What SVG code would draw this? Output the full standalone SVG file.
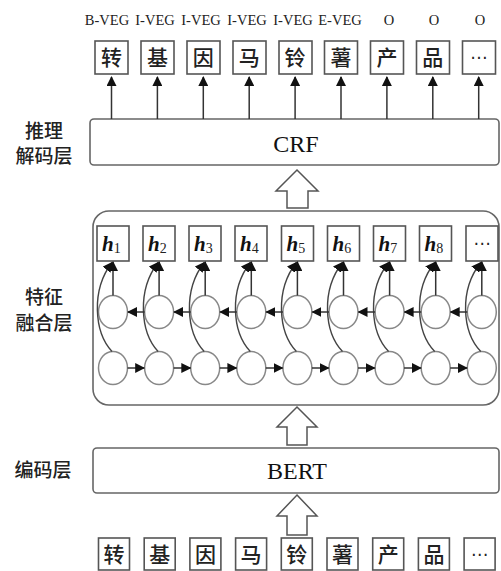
<svg xmlns="http://www.w3.org/2000/svg" width="501" height="571" viewBox="0 0 501 571">
<defs>
<marker id="ah" viewBox="0 0 10 10" refX="9" refY="5" markerWidth="10" markerHeight="10" markerUnits="userSpaceOnUse" orient="auto">
<path d="M0,0 L10,5 L0,10 Z" fill="#111"/>
</marker>
</defs>
<style>
.tag{font-family:"Liberation Serif",serif;font-size:14.5px;fill:#222;text-anchor:middle}
.ch{font-family:"Noto Sans CJK SC",sans-serif;font-size:21px;fill:#222;text-anchor:middle;font-weight:500}
.dots{font-family:"DejaVu Sans",sans-serif;font-size:17px;fill:#222;text-anchor:middle}
.box{fill:#fff;stroke:#555;stroke-width:1.6}
.lay{fill:#fff;stroke:#666;stroke-width:1.6}
.lbl{font-family:"Noto Sans CJK SC",sans-serif;font-size:19px;fill:#222;text-anchor:middle;font-weight:500}
.big{font-family:"Liberation Serif",serif;font-size:24px;fill:#111;text-anchor:middle}
.hh{font-family:"Liberation Serif",serif;font-size:21px;fill:#111;font-weight:bold;font-style:italic}
.sub{font-family:"Liberation Serif",serif;font-size:14px;fill:#222;font-weight:normal;font-style:normal}
.cir{fill:#fff;stroke:#888;stroke-width:1.5}
.ln{fill:none;stroke:#333;stroke-width:1.5}
.cv{fill:none;stroke:#444;stroke-width:1.4}
.hol{fill:#fff;stroke:#555;stroke-width:1.5}
</style>

<g id="tags">
<text class="tag" x="107" y="25">B-VEG</text>
<text class="tag" x="155" y="25">I-VEG</text>
<text class="tag" x="201" y="25">I-VEG</text>
<text class="tag" x="247" y="25">I-VEG</text>
<text class="tag" x="293" y="25">I-VEG</text>
<text class="tag" x="340" y="25">E-VEG</text>
<text class="tag" x="389" y="25">O</text>
<text class="tag" x="434" y="25">O</text>
<text class="tag" x="480" y="25">O</text>
</g>

<g id="top-chars">
<rect class="box" x="95" y="41" width="33" height="33"/><text class="ch" x="111.5" y="65">转</text>
<rect class="box" x="141" y="41" width="33" height="33"/><text class="ch" x="157.4" y="65">基</text>
<rect class="box" x="187" y="41" width="33" height="33"/><text class="ch" x="203.3" y="65">因</text>
<rect class="box" x="233" y="41" width="33" height="33"/><text class="ch" x="249.2" y="65">马</text>
<rect class="box" x="279" y="41" width="33" height="33"/><text class="ch" x="295.1" y="65">铃</text>
<rect class="box" x="324.5" y="41" width="33" height="33"/><text class="ch" x="341" y="65">薯</text>
<rect class="box" x="370.5" y="41" width="33" height="33"/><text class="ch" x="386.9" y="65">产</text>
<rect class="box" x="416.5" y="41" width="33" height="33"/><text class="ch" x="432.8" y="65">品</text>
<rect class="box" x="462.5" y="41" width="33" height="33"/><text class="dots" x="478.7" y="63">⋯</text>
</g>

<g id="crf-layer">
<rect class="lay" x="90" y="119" width="409" height="46" rx="4"/>
<text class="big" x="296" y="152">CRF</text>
<text class="lbl" x="44" y="138">推理</text>
<text class="lbl" x="44" y="163">解码层</text>
</g>

<g id="feature-layer">
<rect class="lay" x="93" y="211" width="406" height="194" rx="16"/>
<text class="lbl" x="44" y="304">特征</text>
<text class="lbl" x="44" y="330">融合层</text>
<g id="h-boxes">
<rect class="box" x="97" y="226" width="32" height="35"/><text class="hh" x="102" y="251">h<tspan class="sub" dy="2">1</tspan></text>
<rect class="box" x="143" y="226" width="32" height="35"/><text class="hh" x="148" y="251">h<tspan class="sub" dy="2">2</tspan></text>
<rect class="box" x="189" y="226" width="32" height="35"/><text class="hh" x="194" y="251">h<tspan class="sub" dy="2">3</tspan></text>
<rect class="box" x="235" y="226" width="32" height="35"/><text class="hh" x="240" y="251">h<tspan class="sub" dy="2">4</tspan></text>
<rect class="box" x="281.5" y="226" width="32" height="35"/><text class="hh" x="286.5" y="251">h<tspan class="sub" dy="2">5</tspan></text>
<rect class="box" x="327.5" y="226" width="32" height="35"/><text class="hh" x="332.5" y="251">h<tspan class="sub" dy="2">6</tspan></text>
<rect class="box" x="373.5" y="226" width="32" height="35"/><text class="hh" x="378.5" y="251">h<tspan class="sub" dy="2">7</tspan></text>
<rect class="box" x="419.5" y="226" width="32" height="35"/><text class="hh" x="424.5" y="251">h<tspan class="sub" dy="2">8</tspan></text>
<rect class="box" x="466" y="226" width="32" height="35"/><text class="dots" x="482" y="249">⋯</text>
</g>
<g id="lstm-cells">
<ellipse class="cir" cx="113" cy="312" rx="14.5" ry="16.5"/><ellipse class="cir" cx="113" cy="368" rx="14.5" ry="16.5"/>
<ellipse class="cir" cx="159.1" cy="312" rx="14.5" ry="16.5"/><ellipse class="cir" cx="159.1" cy="368" rx="14.5" ry="16.5"/>
<ellipse class="cir" cx="205.2" cy="312" rx="14.5" ry="16.5"/><ellipse class="cir" cx="205.2" cy="368" rx="14.5" ry="16.5"/>
<ellipse class="cir" cx="251.3" cy="312" rx="14.5" ry="16.5"/><ellipse class="cir" cx="251.3" cy="368" rx="14.5" ry="16.5"/>
<ellipse class="cir" cx="297.4" cy="312" rx="14.5" ry="16.5"/><ellipse class="cir" cx="297.4" cy="368" rx="14.5" ry="16.5"/>
<ellipse class="cir" cx="343.5" cy="312" rx="14.5" ry="16.5"/><ellipse class="cir" cx="343.5" cy="368" rx="14.5" ry="16.5"/>
<ellipse class="cir" cx="389.6" cy="312" rx="14.5" ry="16.5"/><ellipse class="cir" cx="389.6" cy="368" rx="14.5" ry="16.5"/>
<ellipse class="cir" cx="435.7" cy="312" rx="14.5" ry="16.5"/><ellipse class="cir" cx="435.7" cy="368" rx="14.5" ry="16.5"/>
<ellipse class="cir" cx="481.8" cy="312" rx="14.5" ry="16.5"/><ellipse class="cir" cx="481.8" cy="368" rx="14.5" ry="16.5"/>
</g>
</g>

<g id="bert-layer">
<rect class="lay" x="93" y="448" width="406" height="45" rx="4"/>
<text class="big" x="297" y="479">BERT</text>
<text class="lbl" x="43" y="477">编码层</text>
</g>

<g id="bottom-chars">
<rect class="box" x="98.5" y="538" width="31" height="32"/><text class="ch" x="114" y="562">转</text>
<rect class="box" x="144.2" y="538" width="31" height="32"/><text class="ch" x="159.7" y="562">基</text>
<rect class="box" x="189.9" y="538" width="31" height="32"/><text class="ch" x="205.4" y="562">因</text>
<rect class="box" x="235.6" y="538" width="31" height="32"/><text class="ch" x="251.1" y="562">马</text>
<rect class="box" x="281.3" y="538" width="31" height="32"/><text class="ch" x="296.8" y="562">铃</text>
<rect class="box" x="327" y="538" width="31" height="32"/><text class="ch" x="342.5" y="562">薯</text>
<rect class="box" x="372.7" y="538" width="31" height="32"/><text class="ch" x="388.2" y="562">产</text>
<rect class="box" x="418.4" y="538" width="31" height="32"/><text class="ch" x="433.9" y="562">品</text>
<rect class="box" x="464.1" y="538" width="31" height="32"/><text class="dots" x="479.6" y="560">⋯</text>
</g>

<g id="connectors">
<line class="ln" x1="111.5" y1="119" x2="111.5" y2="77" marker-end="url(#ah)"/>
<line class="ln" x1="157.4" y1="119" x2="157.4" y2="77" marker-end="url(#ah)"/>
<line class="ln" x1="203.3" y1="119" x2="203.3" y2="77" marker-end="url(#ah)"/>
<line class="ln" x1="249.2" y1="119" x2="249.2" y2="77" marker-end="url(#ah)"/>
<line class="ln" x1="295.1" y1="119" x2="295.1" y2="77" marker-end="url(#ah)"/>
<line class="ln" x1="341" y1="119" x2="341" y2="77" marker-end="url(#ah)"/>
<line class="ln" x1="386.9" y1="119" x2="386.9" y2="77" marker-end="url(#ah)"/>
<line class="ln" x1="432.8" y1="119" x2="432.8" y2="77" marker-end="url(#ah)"/>
<line class="ln" x1="478.7" y1="119" x2="478.7" y2="77" marker-end="url(#ah)"/>
<path class="hol" d="M297,170 L318,191 L308,191 L308,208 L287,208 L287,191 L276,191 Z"/>
<path class="hol" d="M297,407 L317,427 L307,427 L307,445 L287,445 L287,427 L277,427 Z"/>
<path class="hol" d="M297,495 L317,516 L307,516 L307,535 L287,535 L287,516 L277,516 Z"/>
<line class="ln" x1="113" y1="295.5" x2="113" y2="262" marker-end="url(#ah)"/>
<line class="ln" x1="159.1" y1="295.5" x2="159.1" y2="262" marker-end="url(#ah)"/>
<line class="ln" x1="205.2" y1="295.5" x2="205.2" y2="262" marker-end="url(#ah)"/>
<line class="ln" x1="251.3" y1="295.5" x2="251.3" y2="262" marker-end="url(#ah)"/>
<line class="ln" x1="297.4" y1="295.5" x2="297.4" y2="262" marker-end="url(#ah)"/>
<line class="ln" x1="343.5" y1="295.5" x2="343.5" y2="262" marker-end="url(#ah)"/>
<line class="ln" x1="389.6" y1="295.5" x2="389.6" y2="262" marker-end="url(#ah)"/>
<line class="ln" x1="435.7" y1="295.5" x2="435.7" y2="262" marker-end="url(#ah)"/>
<line class="ln" x1="481.8" y1="295.5" x2="481.8" y2="262" marker-end="url(#ah)"/>
<path class="cv" d="M112,351.5 C94,332 91,290 112,262.5" marker-end="url(#ah)"/>
<path class="cv" d="M158.1,351.5 C140,332 137,290 158.1,262.5" marker-end="url(#ah)"/>
<path class="cv" d="M204.2,351.5 C186,332 183,290 204.2,262.5" marker-end="url(#ah)"/>
<path class="cv" d="M250.3,351.5 C232,332 229,290 250.3,262.5" marker-end="url(#ah)"/>
<path class="cv" d="M296.4,351.5 C278,332 275,290 296.4,262.5" marker-end="url(#ah)"/>
<path class="cv" d="M342.5,351.5 C324,332 321,290 342.5,262.5" marker-end="url(#ah)"/>
<path class="cv" d="M388.6,351.5 C370,332 367,290 388.6,262.5" marker-end="url(#ah)"/>
<path class="cv" d="M434.7,351.5 C416,332 413,290 434.7,262.5" marker-end="url(#ah)"/>
<path class="cv" d="M480.8,351.5 C462,332 459,290 480.8,262.5" marker-end="url(#ah)"/>
<line class="ln" x1="144.6" y1="312" x2="128" y2="312" marker-end="url(#ah)"/>
<line class="ln" x1="190.7" y1="312" x2="174.1" y2="312" marker-end="url(#ah)"/>
<line class="ln" x1="236.8" y1="312" x2="220.2" y2="312" marker-end="url(#ah)"/>
<line class="ln" x1="282.9" y1="312" x2="266.3" y2="312" marker-end="url(#ah)"/>
<line class="ln" x1="329" y1="312" x2="312.4" y2="312" marker-end="url(#ah)"/>
<line class="ln" x1="375.1" y1="312" x2="358.5" y2="312" marker-end="url(#ah)"/>
<line class="ln" x1="421.2" y1="312" x2="404.6" y2="312" marker-end="url(#ah)"/>
<line class="ln" x1="467.3" y1="312" x2="450.7" y2="312" marker-end="url(#ah)"/>
<line class="ln" x1="127.5" y1="368" x2="144.2" y2="368" marker-end="url(#ah)"/>
<line class="ln" x1="173.6" y1="368" x2="190.3" y2="368" marker-end="url(#ah)"/>
<line class="ln" x1="219.7" y1="368" x2="236.4" y2="368" marker-end="url(#ah)"/>
<line class="ln" x1="265.8" y1="368" x2="282.5" y2="368" marker-end="url(#ah)"/>
<line class="ln" x1="311.9" y1="368" x2="328.6" y2="368" marker-end="url(#ah)"/>
<line class="ln" x1="358" y1="368" x2="374.7" y2="368" marker-end="url(#ah)"/>
<line class="ln" x1="404.1" y1="368" x2="420.8" y2="368" marker-end="url(#ah)"/>
<line class="ln" x1="450.2" y1="368" x2="466.9" y2="368" marker-end="url(#ah)"/>
</g>
</svg>
